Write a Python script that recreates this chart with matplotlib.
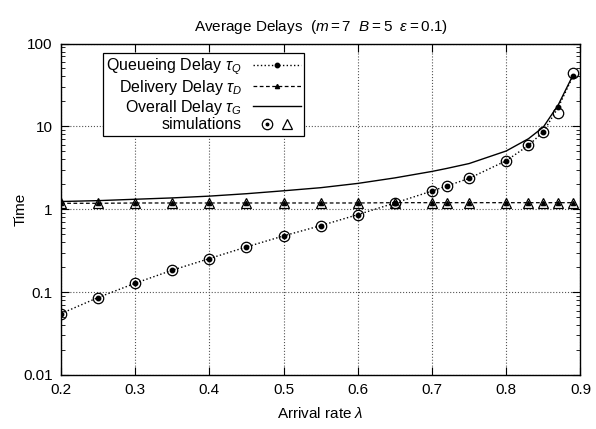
import matplotlib
matplotlib.use('Agg')
import matplotlib.pyplot as plt
from matplotlib.lines import Line2D
from matplotlib.legend_handler import HandlerTuple
from matplotlib.ticker import LogLocator, FixedLocator, NullFormatter

plt.rcParams['font.family'] = ['Liberation Sans', 'DejaVu Sans']
plt.rcParams['mathtext.fontset'] = 'custom'
plt.rcParams['mathtext.rm'] = 'Liberation Sans'
plt.rcParams['mathtext.it'] = 'Liberation Sans:italic'
plt.rcParams['mathtext.bf'] = 'Liberation Sans:bold'

# arrival rates
rates = [0.2, 0.25, 0.3, 0.35, 0.4, 0.45, 0.5, 0.55, 0.6, 0.65,
         0.7, 0.72, 0.75, 0.8, 0.83, 0.85, 0.87, 0.89]

# analytical delays
queueing = [0.055, 0.086, 0.128, 0.184, 0.254, 0.351, 0.477, 0.634, 0.861, 1.19,
            1.66, 1.91, 2.36, 3.85, 5.9, 8.61, 16.9, 40.4]
delivery = [1.18, 1.18, 1.19, 1.19, 1.19, 1.19, 1.19, 1.19, 1.19, 1.2,
            1.2, 1.2, 1.2, 1.2, 1.2, 1.2, 1.2, 1.2]
overall = [1.24, 1.27, 1.32, 1.37, 1.44, 1.54, 1.67, 1.82, 2.05, 2.39,
           2.86, 3.11, 3.56, 5.05, 7.1, 9.81, 18.1, 41.6]

# simulation results
sim_queueing = [0.055, 0.086, 0.128, 0.184, 0.254, 0.351, 0.477, 0.634, 0.861, 1.19,
                1.66, 1.91, 2.36, 3.85, 5.9, 8.61, 14.6, 44.2]
sim_delivery = [1.2, 1.2, 1.2, 1.2, 1.2, 1.2, 1.2, 1.2, 1.2, 1.2,
                1.2, 1.2, 1.2, 1.2, 1.2, 1.2, 1.2, 1.2]

fig = plt.figure(figsize=(5.96, 4.29), dpi=100)
ax = fig.add_axes([0.1023, 0.1259, 0.8716, 0.7727])

q_line, = ax.plot(rates, queueing, color='black', linestyle=':', linewidth=1.0,
                  marker='o', markersize=3.2)
d_line, = ax.plot(rates, delivery, color='black', linestyle='--', linewidth=0.9,
                  dashes=(3, 2), marker='^', markersize=3)
g_line, = ax.plot(rates, overall, color='black', linestyle='-', linewidth=1.0)
ax.plot(rates, sim_queueing, linestyle='none', marker='o', markersize=7.5,
        markerfacecolor='none', markeredgecolor='black', markeredgewidth=0.9)
ax.plot(rates, sim_delivery, linestyle='none', marker='^', markersize=7.5,
        markerfacecolor='none', markeredgecolor='black', markeredgewidth=0.9)

ax.set_yscale('log')
ax.set_xlim(0.2, 0.9)
ax.set_ylim(0.01, 100)
ax.xaxis.set_major_locator(FixedLocator([0.2, 0.3, 0.4, 0.5, 0.6, 0.7, 0.8, 0.9]))
ax.set_xticklabels(['0.2', '0.3', '0.4', '0.5', '0.6', '0.7', '0.8', '0.9'])
ax.yaxis.set_major_locator(FixedLocator([0.01, 0.1, 1, 10, 100]))
ax.set_yticklabels(['0.01', '0.1', '1', '10', '100'])
ax.yaxis.set_minor_locator(LogLocator(base=10, subs=range(2, 10)))
ax.yaxis.set_minor_formatter(NullFormatter())
ax.tick_params(which='both', direction='in', top=True, right=True, labelsize=11)
ax.tick_params(which='major', length=6, width=0.8, pad=6)
ax.tick_params(which='minor', length=3, width=0.6)
ax.grid(True, which='major', color='#555555', linestyle=':', linewidth=0.8)
for s in ax.spines.values():
    s.set_linewidth(1.0)

ax.set_xlabel(r'Arrival rate $\lambda$', fontsize=11, labelpad=6)
ax.set_ylabel('Time', fontsize=11, labelpad=-3)
ax.set_title(r'Average Delays  ($m = 7$  $B = 5$  $\varepsilon = 0.1$)',
             fontsize=11, pad=9)

# legend handles
sim_circle = Line2D([], [], linestyle='none', marker='o', markersize=7.5,
                    markerfacecolor='none', markeredgecolor='black', markeredgewidth=0.9)
sim_dot = Line2D([], [], linestyle='none', marker='o', markersize=1.8, color='black')
sim_tri = Line2D([], [], linestyle='none', marker='^', markersize=7.5,
                 markerfacecolor='none', markeredgecolor='black', markeredgewidth=0.9)
circle_pair = (sim_circle, sim_dot)
sim_handle = (circle_pair, sim_tri)

q_handle = Line2D([], [], color='black', linestyle=':', linewidth=1.0,
                  marker='o', markersize=3.2)
d_handle = Line2D([], [], color='black', linestyle='--', linewidth=0.9, dashes=(3, 2),
                  marker='^', markersize=3)

leg = ax.legend([q_handle, d_handle, g_line, sim_handle],
                [r'Queueing Delay $\tau_Q$', r'Delivery Delay $\tau_D$',
                 r'Overall Delay $\tau_G$', 'simulations'],
                handler_map={sim_handle: HandlerTuple(ndivide=None, pad=-0.6),
                             circle_pair: HandlerTuple(ndivide=1)},
                loc='upper left', bbox_to_anchor=(0.072, 0.985),
                markerfirst=False, fontsize=11.5, frameon=True, fancybox=False,
                edgecolor='black', framealpha=1, borderpad=0.2,
                labelspacing=0.05, handlelength=3.0, handletextpad=0.7,
                numpoints=1, borderaxespad=0.3)
leg.get_frame().set_linewidth(0.9)
for t in leg.get_texts():
    t.set_ha('right')
leg._legend_box.align = 'right'

fig.savefig('out.png', dpi=100)
